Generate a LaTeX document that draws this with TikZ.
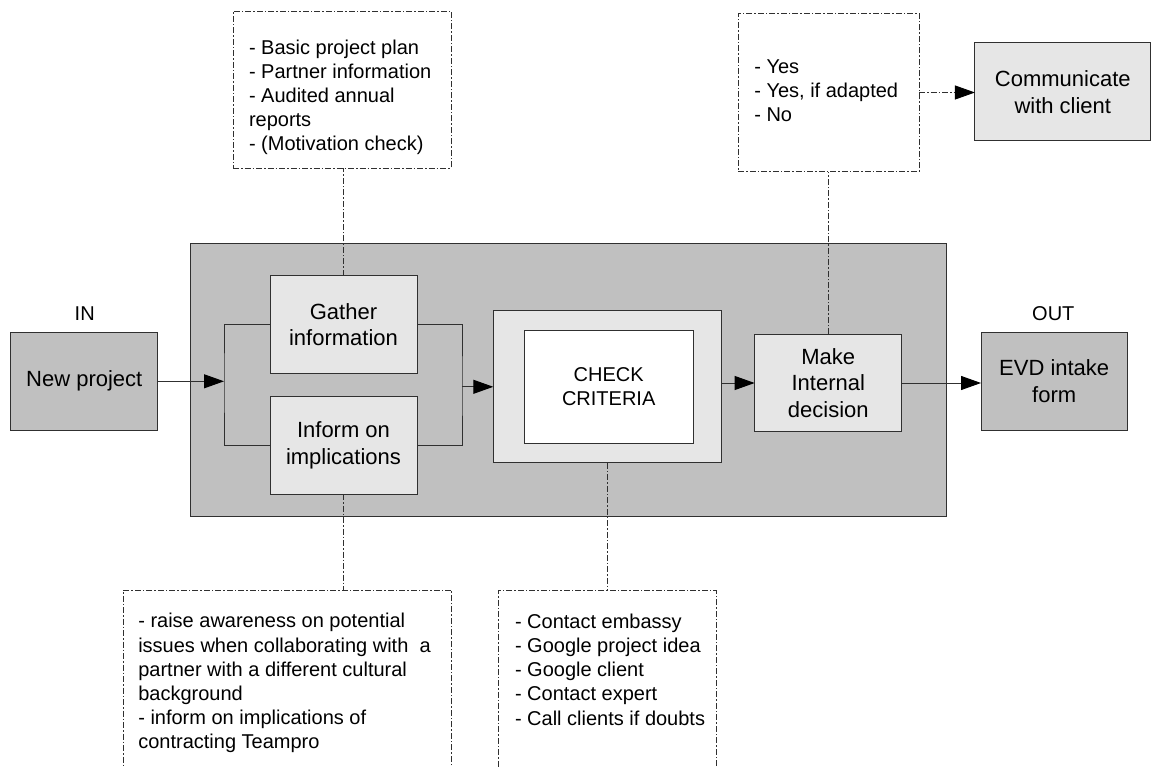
\documentclass[tikz,border=0pt]{standalone}
\usepackage{fontspec}
\setmainfont{Liberation Sans}
\usetikzlibrary{arrows.meta}
\definecolor{boxgrey}{HTML}{C0C0C0}
\definecolor{boxlight}{HTML}{E6E6E6}
\definecolor{edge}{HTML}{303030}

\begin{document}
\begin{tikzpicture}[x=1pt,y=-1pt,
  every node/.style={inner sep=0pt,outer sep=0pt},
  frame/.style={draw=edge,line width=1pt},
  proc/.style={frame,fill=boxlight,align=center,font=\fontsize{22}{26.5}\selectfont},
  io/.style={proc,fill=boxgrey},
  lbl/.style={font=\fontsize{20}{24}\selectfont,anchor=base},
  dashdot/.style={draw=edge,line width=0.9pt,dash pattern=on 6pt off 2pt on 1.5pt off 2pt},
  note/.style={dashdot},
  % anchored at the baseline of the last line
  notetext/.style={anchor=base west,align=left,font=\fontsize{20}{24.2}\selectfont},
  wire/.style={draw=edge,line width=1pt},
  tip/.style={-{Triangle[length=20pt,width=14pt,color=black]}},
  arr/.style={wire,tip},
]
\useasboundingbox (0,0) rectangle (1151,767);

% enclosing process block
\node[frame,fill=boxgrey,minimum width=755.7pt,minimum height=272.5pt] (big) at (568.8,380.2) {};

% input and output
\node[io,minimum width=146.7pt,minimum height=98pt] (newp) at (84.3,381.3) {New project};
\node[lbl] (inlbl) at (84.7,320) {IN};
\node[io,minimum width=146.3pt,minimum height=97.7pt] (evd) at (1054.2,381.2) {EVD intake\\form};
\node[lbl] (outlbl) at (1053.3,320) {OUT};

% steps inside the block
\node[proc,minimum width=147pt,minimum height=97.7pt] (gather) at (343.5,324.8) {Gather\\information};
\node[proc,minimum width=147pt,minimum height=97.7pt] (inform) at (343.5,445.2) {Inform on\\implications};
\node[proc,minimum width=228.4pt,minimum height=152.3pt] (checkout) at (607.5,386.8) {};
\node[frame,fill=white,minimum width=169.3pt,minimum height=112.7pt,align=center,
      font=\fontsize{20}{23.6}\selectfont] (checkin) at (608.7,386.7) {CHECK\\CRITERIA};
\node[proc,minimum width=147.3pt,minimum height=97.4pt] (make) at (828.3,383) {Make\\Internal\\decision};
\node[proc,minimum width=175.7pt,minimum height=98pt] (comm) at (1062.8,92) {Communicate\\with client};

% annotation frames
\node[note,minimum width=218pt,minimum height=157pt] (note1) at (342,89.5) {};
\node[notetext] (note1t) at (249,151) {- Basic project plan\\- Partner information\\- Audited annual\\reports\\- (Motivation check)};
\node[note,minimum width=180.7pt,minimum height=158.4pt] (note2) at (828.7,92.5) {};
\node[notetext] (note2t) at (754.3,122) {- Yes\\- Yes, if adapted\\- No};
\node[note,minimum width=328.4pt,minimum height=200pt] (note3) at (287.5,690) {};
\node[notetext] (note3t) at (138.3,748.8) {- raise awareness on potential\\issues when collaborating with \ a\\partner with a different cultural\\background\\- inform on implications of\\contracting Teampro};
\node[note,minimum width=217.7pt,minimum height=199.3pt] (note4) at (607.2,690.3) {};
\node[notetext] (note4t) at (515,725.1) {- Contact embassy\\- Google project idea\\- Google client\\- Contact expert\\- Call clients if doubts};

% split and join
\coordinate (jl) at (224,381);
\coordinate (jr) at (462,387);
\draw[arr] (newp.east) -- (newp.east -| jl);
\draw[wire] (gather.west) -| (jl) |- (inform.west);
\draw[wire] (gather.east) -| (jr) |- (inform.east);
\draw[arr] (checkout.west -| jr) -- (checkout.west);
\draw[arr] (make.west -| checkout.east) -- (make.west);
\draw[arr] (make.east) -- (make.east -| evd.west);

% annotation links
\draw[dashdot] (gather.north) -- (gather.north |- note1.south);
\draw[dashdot] (make.north) -- (make.north |- note2.south);
\draw[dashdot] (inform.south) -- (inform.south |- note3.north);
\draw[dashdot] (checkout.south) -- (checkout.south |- note4.north);
\draw[dashdot,tip] (note2.east) -- (note2.east -| comm.west);
\end{tikzpicture}
\end{document}
